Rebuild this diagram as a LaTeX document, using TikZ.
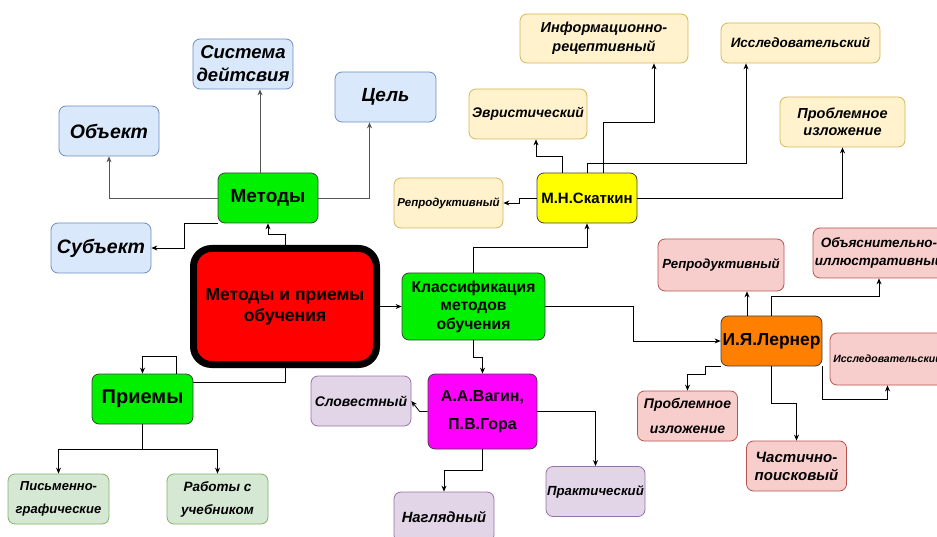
\documentclass[tikz,border=0pt]{standalone}
\usepackage{fontspec}
\setmainfont{Liberation Sans}
\usetikzlibrary{arrows.meta}

\definecolor{sinijF}{HTML}{DAE8FC}
\definecolor{sinijR}{HTML}{6C8EBF}
\definecolor{zheltF}{HTML}{FFF2CC}
\definecolor{zheltR}{HTML}{D6B656}
\definecolor{rozF}{HTML}{F8CECC}
\definecolor{rozR}{HTML}{B85450}
\definecolor{lilF}{HTML}{E1D5E7}
\definecolor{lilR}{HTML}{9673A6}
\definecolor{zelF}{HTML}{D5E8D4}
\definecolor{zelR}{HTML}{82B366}
\definecolor{yarkoZel}{HTML}{00F000}
\definecolor{yarkoZhelt}{HTML}{FFFF00}
\definecolor{fiolet}{HTML}{FF00FF}
\definecolor{oranzh}{HTML}{FF8000}
\definecolor{liniya}{HTML}{555555}

\newcommand{\razmer}[2]{\fontsize{#1}{#2}\selectfont}

\tikzset{
	base/.style={draw, rounded corners=7pt, align=center, inner sep=0pt, line width=0.8pt},
	leaf/.style={base, font=\bfseries\itshape, minimum width=100, minimum height=50},
	listS/.style={leaf, fill=sinijF, draw=sinijR},
	listZh/.style={leaf, fill=zheltF, draw=zheltR},
	listR/.style={leaf, fill=rozF, draw=rozR},
	listL/.style={leaf, fill=lilF, draw=lilR},
	listZ/.style={leaf, fill=zelF, draw=zelR},
	glav/.style={base, font=\bfseries, draw=black!75, minimum width=100, minimum height=50},
	arr/.style={-{Stealth[length=6pt,width=5pt]}, line width=0.8pt},
}

\begin{document}
\begin{tikzpicture}[x=1pt, y=-1pt]
	\useasboundingbox (0,0) rectangle (937,537);
	\clip (0,0) rectangle (937,537);

	% Zentrum
	\node[base, fill=red, draw=black, line width=7pt, rounded corners=18pt, minimum width=183,
		minimum height=116, font=\bfseries\razmer{17.5}{21}] (glavnoe) at (285, 306.5)
		{Методы и приемы\\обучения};

	% Methoden
	\node[glav, fill=yarkoZel, font=\bfseries\razmer{19}{22}] (metody) at (268, 198) {Методы};
	\node[listS, font=\bfseries\itshape\razmer{18.5}{23}] (sistema) at (243, 64) {Система\\дейтсвия};
	\node[listS, font=\bfseries\itshape\razmer{19.5}{22}] (obekt) at (109, 131) {Объект};
	\node[listS, minimum width=101, font=\bfseries\itshape\razmer{19}{22}] (cel) at (385.5, 97) {Цель};
	\node[listS, font=\bfseries\itshape\razmer{19.5}{22}] (subekt) at (101, 248) {Субъект};

	\draw[arr] (glavnoe.north) -- ++(0,-11) -| (metody.south);
	\draw[arr, liniya] (metody.west) -| (obekt.south);
	\draw[arr, liniya] ([xshift=-8]metody.north) -- ([xshift=-8]metody.north |- sistema.south);
	\draw[arr, liniya] (metody.east) -| ([xshift=-16]cel.south);
	\draw[arr] (metody.south west) -- ++(-33,0) |- (subekt.east);

	% Priemy
	\node[glav, fill=yarkoZel, minimum width=101, font=\bfseries\razmer{20}{22}] (priemy) at (142.5, 399) {Приемы};
	\node[listZ, minimum width=101, font=\bfseries\itshape\razmer{13}{23}] (pismenno) at (58.5, 499) {Письменно-\\графические};
	\node[listZ, minimum width=101, font=\bfseries\itshape\razmer{13.5}{23}] (raboty) at (217.5, 499) {Работы с\\учебником};

	\draw[line width=0.8pt] (glavnoe.south) |- ([yshift=17]priemy.east);
	\draw[arr] ([xshift=34]priemy.north) -- ++(0,-17) -| (priemy.north);
	\draw[arr] (priemy.south) -- ++(0,25) -| (pismenno.north);
	\draw[arr] (priemy.south) -- ++(0,25) -| (raboty.north);

	% Klassifikacija
	\node[glav, fill=yarkoZel, minimum width=143, minimum height=67, font=\bfseries\razmer{15.7}{18.5}] (klass) at (473.5, 306.5)
		{Классификация\\методов\\обучения};
	\draw[arr] (glavnoe.east) -- (klass.west);

	% Vagin, Gora
	\node[glav, fill=fiolet, minimum width=109, minimum height=75, font=\bfseries\razmer{16}{28}] (vagin) at (482.5, 411.5)
		{А.А.Вагин,\\П.В.Гора};
	\node[listL, font=\bfseries\itshape\razmer{14}{17}] (slovesnyj) at (361, 401) {Словестный};
	\node[listL, font=\bfseries\itshape\razmer{14.8}{17}] (nagljadnyj) at (444, 517) {Наглядный};
	\node[listL, minimum width=99, font=\bfseries\itshape\razmer{13.2}{17}] (praktich) at (595.5, 491.5) {Практический};

	\draw[arr] (klass.south) -- ++(0,17) -| (vagin.north);
	\draw[arr] (vagin.west) -- ++(-8,0) -- (slovesnyj.east);
	\draw[arr] (vagin.south) -- ++(0,21) -| (nagljadnyj.north);
	\draw[arr] (vagin.east) -| (praktich.north);

	% Skatkin
	\node[glav, fill=yarkoZhelt, font=\bfseries\razmer{15}{17}] (skatkin) at (587, 198) {М.Н.Скаткин};
	\node[listZh, minimum width=109, font=\bfseries\itshape\razmer{11.5}{14}] (reprZh) at (448.5, 203) {Репродуктивный};
	\node[listZh, minimum width=118, font=\bfseries\itshape\razmer{13.9}{17}] (evrist) at (528, 114) {Эвристический};
	\node[listZh, minimum width=168, minimum height=49, font=\bfseries\itshape\razmer{14.5}{19}] (inform) at (604, 38.5)
		{Информационно-\\рецептивный};
	\node[listZh, minimum width=159, minimum height=40, font=\bfseries\itshape\razmer{13.5}{15}] (issledZh) at (800.5, 43)
		{Исследовательский};
	\node[listZh, minimum width=125, font=\bfseries\itshape\razmer{14.5}{17.5}] (problZh) at (842.5, 122) {Проблемное\\изложение};

	\draw[arr] (klass.north) -- ++(0,-25) -| (skatkin.south);
	\draw[arr] (skatkin.west) -- ++(-17,0) |- (reprZh.east);
	\draw[arr] ([xshift=-25]skatkin.north) -- ++(0,-16) -| ([xshift=8]evrist.south);
	\draw[arr] ([xshift=16]skatkin.north) -- ++(0,-50) -| ([xshift=50]inform.south);
	\draw[arr] (skatkin.north) -- ++(0,-9) -| ([xshift=-54.5]issledZh.south);
	\draw[arr] (skatkin.east) -| (problZh.south);

	% Lerner
	\node[glav, fill=oranzh, minimum width=101, font=\bfseries\razmer{17.4}{20}] (lerner) at (771.5, 341) {И.Я.Лернер};
	\node[listR, minimum width=126, minimum height=52, font=\bfseries\itshape\razmer{13.2}{17}] (reprR) at (721, 265) {Репродуктивный};
	\node[listR, minimum width=132, font=\bfseries\itshape\razmer{13.5}{18}] (objasn) at (879, 253)
		{Объяснительно-\\иллюстративный};
	\node[listR, minimum width=115, minimum height=52, font=\bfseries\itshape\razmer{10.5}{14}] (issledR) at (887.5, 359)
		{Исследовательский};
	\node[listR, font=\bfseries\itshape\razmer{14}{25}] (problR) at (687.5, 416) {Проблемное\\изложение};
	\node[listR, font=\bfseries\itshape\razmer{15}{18}] (chastichno) at (796.5, 466) {Частично-\\поисковый};

	\draw[arr] (klass.east) -- ++(88,0) |- (lerner.west);
	\draw[arr] ([xshift=-24.5]lerner.north) -- ([xshift=-24.5]lerner.north |- reprR.south);
	\draw[arr] (lerner.north) -- ++(0,-19) -| (objasn.south);
	\draw[arr] (lerner.south east) -- ++(0,33) -| (issledR.south);
	\draw[arr] (lerner.south west) -- ++(-15,0) -- ++(0,8) -| (problR.north);
	\draw[arr] (lerner.south) -- ++(0,37) -| (chastichno.north);
\end{tikzpicture}
\end{document}
